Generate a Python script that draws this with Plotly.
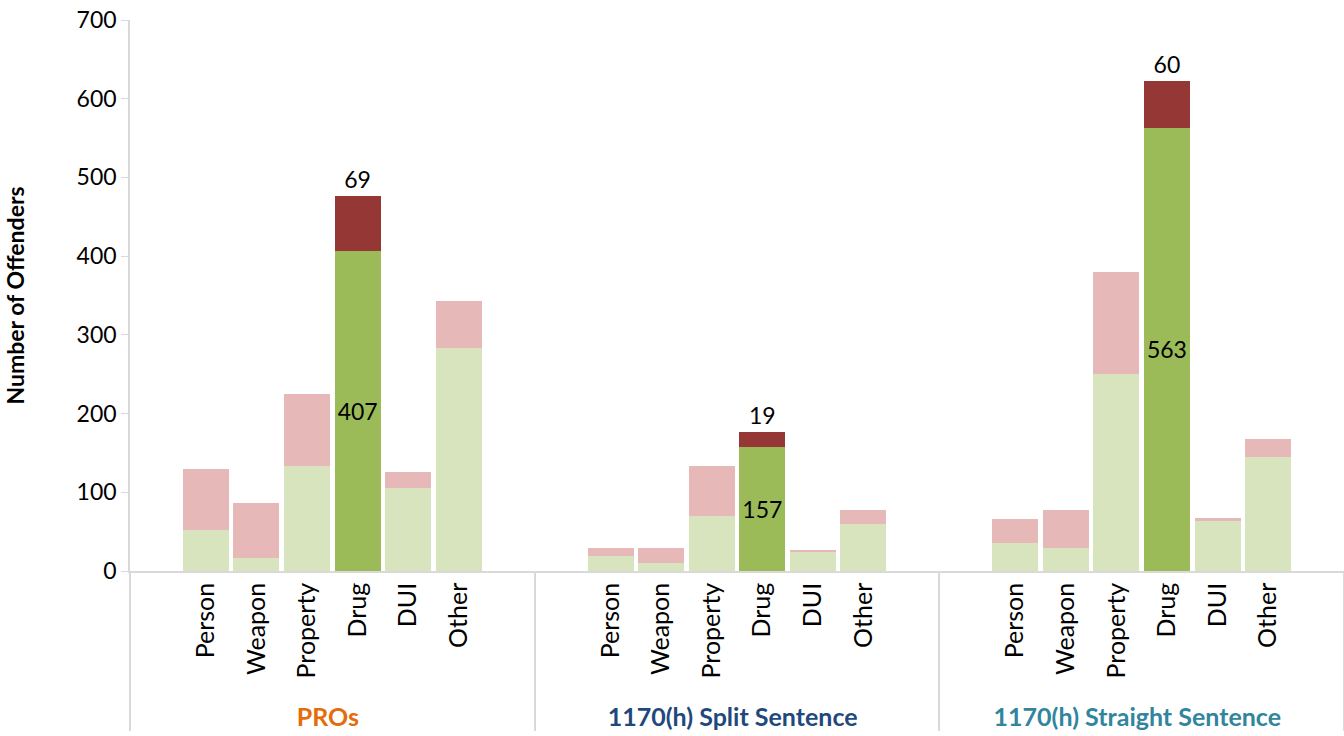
import plotly.graph_objects as go

# groups and offense types
groups = ["PROs", "1170(h) Split Sentence", "1170(h) Straight Sentence"]
group_colors = ["#E46C0A", "#1F497D", "#31859C"]
offenses = ["Person", "Weapon", "Property", "Drug", "DUI", "Other"]

# lower (green) and upper (red) part of each stacked bar
pros_lower = [52, 17, 134, 407, 106, 283]
pros_upper = [78, 69, 91, 69, 20, 60]
split_lower = [19, 10, 70, 157, 24, 60]
split_upper = [10, 19, 64, 19, 3, 18]
straight_lower = [35, 29, 250, 563, 63, 145]
straight_upper = [31, 49, 130, 60, 4, 23]

lower = [pros_lower, split_lower, straight_lower]
upper = [pros_upper, split_upper, straight_upper]

light_green, pink = "#D7E4BD", "#E6B9B8"
dark_green, dark_red = "#9BBB59", "#953735"
font = "Lato"

# build multicategory x with an empty slot at each end of a group
xg, xc, y_lo, y_hi = [], [], [], []
c_lo, c_hi, t_lo, t_hi = [], [], [], []
for g, col, lo, hi in zip(groups, group_colors, lower, upper):
    label = f"<span style='color:{col};font-size:25px'><b>{g}</b></span>"
    cats = [" "] + offenses + ["  "]
    los = [None] + lo + [None]
    his = [None] + hi + [None]
    for c, a, b in zip(cats, los, his):
        xg.append(label)
        xc.append(c)
        y_lo.append(a)
        y_hi.append(b)
        drug = c == "Drug"
        c_lo.append(dark_green if drug else light_green)
        c_hi.append(dark_red if drug else pink)
        t_lo.append(str(a) if drug else "")
        t_hi.append(str(b) if drug else "")

fig = go.Figure()
fig.add_trace(go.Bar(
    x=[xg, xc], y=y_lo, marker=dict(color=c_lo, line_width=0),
    text=t_lo, textposition="inside", insidetextanchor="middle", textangle=0,
    textfont=dict(family=font, size=23, color="black"), hoverinfo="y",
))
fig.add_trace(go.Bar(
    x=[xg, xc], y=y_hi, marker=dict(color=c_hi, line_width=0),
    text=t_hi, textposition="outside", textangle=0, cliponaxis=False,
    textfont=dict(family=font, size=23, color="black"), hoverinfo="y",
))

fig.update_layout(
    width=1344, height=736,
    margin=dict(l=130, r=0, t=20, b=165),
    barmode="stack", bargap=0.09,
    showlegend=False,
    plot_bgcolor="white", paper_bgcolor="white",
    font=dict(family=font, size=22, color="black"),
    xaxis=dict(
        type="multicategory", tickangle=-90, showline=True, linecolor="#D9D9D9",
        linewidth=1.5, showdividers=True, dividercolor="#D9D9D9", dividerwidth=1.5,
        tickfont=dict(family=font, size=25), showgrid=False,
    ),
    yaxis=dict(
        range=[0, 700], dtick=100, showgrid=False, showline=True,
        linecolor="#D9D9D9", linewidth=1.5, ticks="outside", ticklen=7,
        tickcolor="#D9D9D9", tickfont=dict(family=font, size=23),
        title=dict(text="<b>Number of Offenders</b>", font=dict(family=font, size=23),
                   standoff=46),
    ),
)

# drop the default 8px body margin of the page
fig.write_html("out.html", config={"displayModeBar": False},
               post_script="document.body.style.margin='0';")
